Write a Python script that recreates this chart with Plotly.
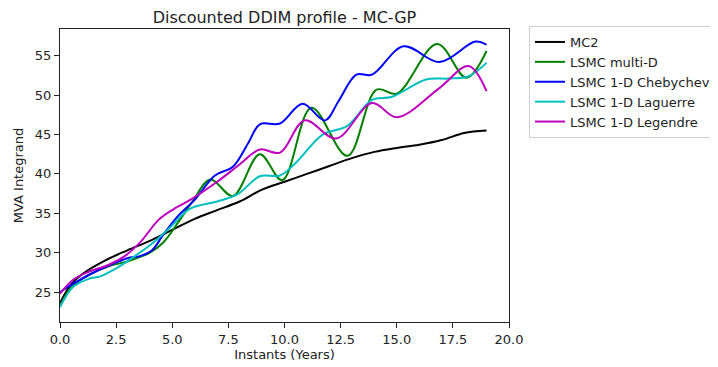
import plotly.graph_objects as go

# ---- data ----
mc2_t = [0, 0.5, 1, 2, 3, 4, 5, 6, 7, 8, 9, 10, 11, 12, 13, 14, 15, 16, 17, 18, 19]
mc2_v = [23.6, 26.0, 27.3, 29.0, 30.3, 31.5, 32.9, 34.3, 35.4, 36.5, 38.0, 39.0,
         40.0, 41.0, 42.0, 42.8, 43.3, 43.7, 44.3, 45.2, 45.5]

multi_t = [0, 0.5, 1.3, 2.2, 3.0, 4.0, 4.6, 5.3, 5.9, 6.7, 7.7, 8.9, 9.9, 11.2,
           12.8, 14.1, 15.0, 16.8, 18.1, 19.0]
multi_v = [23.2, 25.6, 27.2, 28.3, 28.9, 30.0, 31.3, 34.0, 36.5, 39.3, 37.2,
           42.5, 39.2, 48.4, 42.3, 50.7, 50.2, 56.5, 52.2, 55.6]

cheb_t = [0, 0.5, 1.3, 2.2, 3.0, 3.6, 4.1, 4.6, 5.3, 6.0, 6.9, 7.7, 8.4, 8.9,
          9.8, 10.8, 11.8, 12.4, 13.2, 13.9, 15.3, 16.9, 18.5, 19.0]
cheb_v = [25.0, 25.9, 27.2, 28.4, 29.3, 29.6, 30.3, 32.3, 34.8, 36.7, 39.8,
          40.9, 44.0, 46.3, 46.4, 48.9, 46.8, 49.2, 52.6, 52.6, 56.2, 54.2,
          56.8, 56.4]

lag_t = [0, 0.6, 1.3, 1.8, 2.5, 3.3, 4.2, 4.9, 5.8, 7.0, 7.9, 8.9, 9.8, 10.5,
         11.7, 12.8, 13.9, 14.8, 16.3, 17.3, 18.2, 19.0]
lag_v = [23.1, 25.7, 26.7, 27.0, 28.0, 29.5, 31.4, 33.2, 35.6, 36.5, 37.4,
         39.7, 39.8, 41.4, 45.0, 46.1, 49.4, 49.8, 52.0, 52.1, 52.4, 54.1]

leg_t = [0, 0.6, 1.3, 2.2, 2.9, 3.6, 4.4, 5.1, 5.8, 7.0, 8.0, 8.9, 9.8, 10.9,
         12.3, 13.9, 15.0, 16.9, 18.2, 19.0]
leg_v = [24.8, 26.6, 27.6, 28.5, 29.6, 31.4, 34.2, 35.6, 36.7, 39.0, 41.2,
         43.1, 42.7, 46.8, 44.5, 49.0, 47.2, 50.9, 53.7, 50.5]

series = [
    ("MC2", mc2_t, mc2_v, "#000000"),
    ("LSMC multi-D", multi_t, multi_v, "#008000"),
    ("LSMC 1-D Chebychev", cheb_t, cheb_v, "#0000ff"),
    ("LSMC 1-D Laguerre", lag_t, lag_v, "#00bfbf"),
    ("LSMC 1-D Legendre", leg_t, leg_v, "#bf00bf"),
]

x_ticks = [0, 2.5, 5, 7.5, 10, 12.5, 15, 17.5, 20]
y_ticks = [25, 30, 35, 40, 45, 50, 55]

fig = go.Figure()
for name, t, v, c in series:
    fig.add_trace(go.Scatter(x=t, y=v, mode="lines", name=name,
                             line=dict(color=c, width=2, shape="spline",
                                       smoothing=1.0)))

axis_common = dict(showline=True, mirror=True, linecolor="#222", linewidth=1,
                   ticks="outside", ticklen=5, tickcolor="#222",
                   showgrid=False, zeroline=False, automargin=False,
                   tickfont=dict(size=13, color="#222"))

# page body adds an 8px offset; figure is sized to the visible area
W, H = 710, 359
fig.update_layout(
    width=W, height=H,
    margin=dict(l=52, r=209, t=21, b=45, autoexpand=False),
    paper_bgcolor="white", plot_bgcolor="white",
    font=dict(family="DejaVu Sans", size=13, color="#222"),
    title=dict(text="Discounted DDIM profile - MC-GP", x=0.5, xref="paper",
               xanchor="center", y=1 - 9.5 / H, yref="container",
               yanchor="middle", font=dict(size=16, color="#222")),
    xaxis=dict(range=[0, 20], tickvals=x_ticks, tickformat=".1f",
               title=dict(text="Instants (Years)", standoff=4,
                          font=dict(size=13)), **axis_common),
    yaxis=dict(range=[21.2, 58.4], tickvals=y_ticks,
               title=dict(text="MVA Integrand", standoff=8,
                          font=dict(size=13)), **axis_common),
    legend=dict(x=521 / W, y=1 - 18 / H, xref="container", yref="container",
                xanchor="left", yanchor="top",
                bordercolor="#cccccc", borderwidth=1, bgcolor="white",
                font=dict(size=13, color="#222"), itemwidth=30,
                tracegroupgap=0),
    showlegend=True,
)

fig.write_html("out.html")
